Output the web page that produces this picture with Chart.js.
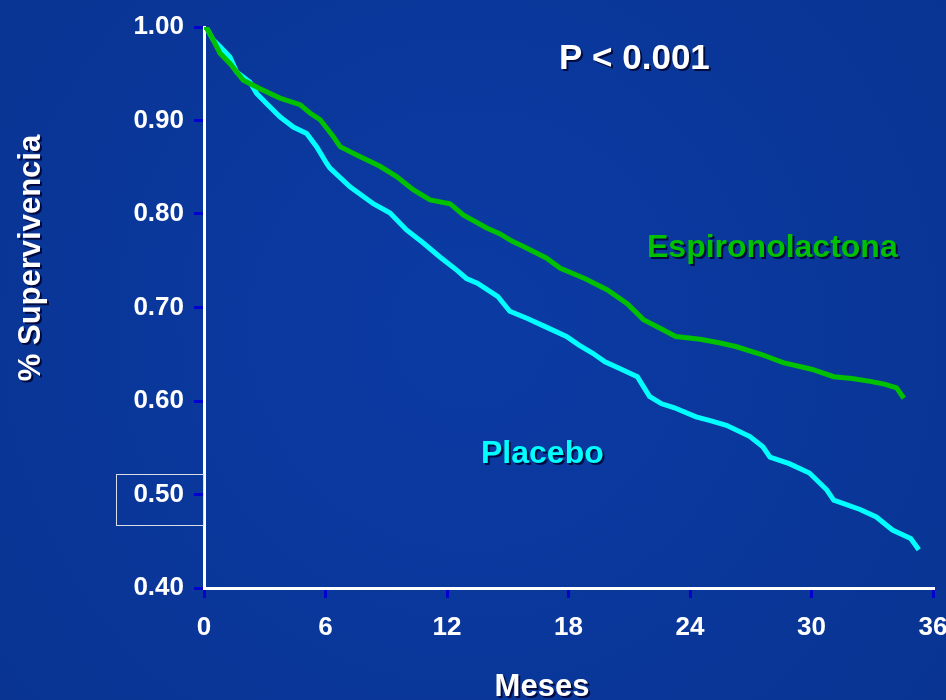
<!DOCTYPE html>
<html>
<head>
  <title>Supervivencia</title>
  <script src="https://cdn.jsdelivr.net/npm/chart.js"></script>
  <style>
    body { margin: 0; background: #0a369c; }
  </style>
</head>
<body>
  <canvas id="chart" width="946" height="700"></canvas>
  <script>
    // months and survival
    const espiroMonths = [0, 0.13, 0.46, 0.79, 1.28, 1.94, 2.77, 3.75, 4.74, 5.23, 5.73, 6.38, 6.72, 7.54, 8.69, 9.51, 10.33, 11.16, 12.15, 12.8, 13.96, 14.6, 15.2, 15.8, 16.9, 17.6, 18.8, 19.9, 20.9, 21.7, 22.5, 23.3, 24.5, 25.5, 26.3, 27.5, 28.6, 30.0, 31.1, 32.0, 32.9, 33.6, 34.2, 34.56];
    const espiroValues = [1.000, 0.999, 0.986, 0.972, 0.961, 0.943, 0.934, 0.924, 0.917, 0.908, 0.901, 0.883, 0.872, 0.863, 0.851, 0.840, 0.826, 0.815, 0.811, 0.799, 0.785, 0.779, 0.771, 0.765, 0.753, 0.742, 0.731, 0.719, 0.704, 0.687, 0.678, 0.669, 0.666, 0.662, 0.658, 0.650, 0.641, 0.634, 0.626, 0.624, 0.621, 0.618, 0.614, 0.603];

    const placeboMonths = [0, 0.13, 0.46, 0.79, 1.28, 1.61, 2.27, 2.6, 3.1, 3.75, 4.41, 5.07, 5.56, 6.06, 6.22, 7.21, 8.36, 9.19, 10.0, 10.83, 11.65, 12.48, 12.96, 13.5, 14.5, 15.1, 16.0, 16.9, 17.9, 18.5, 19.2, 19.8, 20.5, 21.4, 22.0, 22.6, 23.2, 24.3, 25.0, 25.8, 26.96, 27.6, 27.95, 28.9, 29.9, 30.75, 31.1, 32.4, 33.2, 34.0, 34.9, 35.3];
    const placeboValues = [1.000, 0.999, 0.986, 0.979, 0.968, 0.952, 0.941, 0.929, 0.918, 0.904, 0.893, 0.886, 0.872, 0.854, 0.849, 0.829, 0.811, 0.801, 0.783, 0.769, 0.754, 0.740, 0.731, 0.726, 0.712, 0.696, 0.688, 0.679, 0.669, 0.660, 0.651, 0.642, 0.635, 0.626, 0.605, 0.597, 0.593, 0.583, 0.579, 0.574, 0.562, 0.551, 0.540, 0.533, 0.523, 0.505, 0.494, 0.484, 0.476, 0.462, 0.453, 0.441];

    const xTicks = [0, 6, 12, 18, 24, 30, 36];
    const yTicks = [0.40, 0.50, 0.60, 0.70, 0.80, 0.90, 1.00];

    const toPoints = (xs, ys) => xs.map((x, i) => ({ x: x, y: ys[i] }));

    const font = 'Liberation Sans, Arial, sans-serif';

    const background = {
      id: 'background',
      beforeDraw(chart) {
        const ctx = chart.ctx;
        ctx.save();
        const g = ctx.createRadialGradient(470, 330, 50, 470, 330, 700);
        g.addColorStop(0, '#0b3aa3');
        g.addColorStop(1, '#08338f');
        ctx.fillStyle = g;
        ctx.fillRect(0, 0, chart.width, chart.height);
        ctx.restore();
      }
    };

    const labels = {
      id: 'labels',
      afterDraw(chart) {
        const ctx = chart.ctx;
        ctx.save();
        // box round the 0.50 label
        ctx.strokeStyle = '#d8dde8';
        ctx.lineWidth = 1;
        ctx.strokeRect(116.5, 474.5, 87, 51);

        ctx.shadowColor = 'rgba(0, 0, 40, 0.8)';
        ctx.shadowOffsetX = 2;
        ctx.shadowOffsetY = 2;
        ctx.textBaseline = 'alphabetic';
        ctx.textAlign = 'left';

        ctx.fillStyle = '#ffffff';
        ctx.font = 'bold 35px ' + font;
        ctx.fillText('P < 0.001', 559, 69);

        ctx.fillStyle = '#00c000';
        ctx.font = 'bold 32px ' + font;
        ctx.fillText('Espironolactona', 647, 257);

        ctx.fillStyle = '#00ffff';
        ctx.fillText('Placebo', 481, 463);

        ctx.fillStyle = '#ffffff';
        ctx.font = 'bold 31px ' + font;
        ctx.textAlign = 'center';
        ctx.fillText('Meses', 542, 696);

        ctx.translate(40, 258);
        ctx.rotate(-Math.PI / 2);
        ctx.fillText('% Supervivencia', 0, 0);
        ctx.restore();
      }
    };

    new Chart(document.getElementById('chart'), {
      type: 'line',
      data: {
        datasets: [{
          label: 'Espironolactona',
          data: toPoints(espiroMonths, espiroValues),
          borderColor: '#00c000',
          borderWidth: 5,
          pointRadius: 0,
          tension: 0,
          fill: false
        }, {
          label: 'Placebo',
          data: toPoints(placeboMonths, placeboValues),
          borderColor: '#00ffff',
          borderWidth: 5,
          pointRadius: 0,
          tension: 0,
          fill: false
        }]
      },
      options: {
        responsive: false,
        animation: false,
        layout: { padding: { top: 27, right: 13, left: 0, bottom: 0 } },
        plugins: {
          legend: { display: false },
          tooltip: { enabled: false }
        },
        scales: {
          x: {
            type: 'linear',
            min: 0,
            max: 36,
            afterFit(s) {
              s.height = 112;
              s.paddingLeft = 0;
              s.paddingRight = 0;
            },
            afterBuildTicks(s) { s.ticks = xTicks.map(v => ({ value: v })); },
            ticks: {
              color: '#ffffff',
              font: { family: font, size: 26, weight: 'bold' },
              padding: 14,
              maxRotation: 0
            },
            grid: { drawOnChartArea: false, color: '#0000d0', lineWidth: 3, tickLength: 10 },
            border: { color: '#ffffff', width: 3 }
          },
          y: {
            min: 0.4,
            max: 1.0,
            afterFit(s) { s.width = 204; },
            afterBuildTicks(s) { s.ticks = yTicks.map(v => ({ value: v })); },
            ticks: {
              color: '#ffffff',
              font: { family: font, size: 26, weight: 'bold' },
              padding: 10,
              callback: v => v.toFixed(2)
            },
            grid: { drawOnChartArea: false, color: '#0000d0', lineWidth: 3, tickLength: 10 },
            border: { color: '#ffffff', width: 3 }
          }
        }
      },
      plugins: [background, labels]
    });
  </script>
</body>
</html>
